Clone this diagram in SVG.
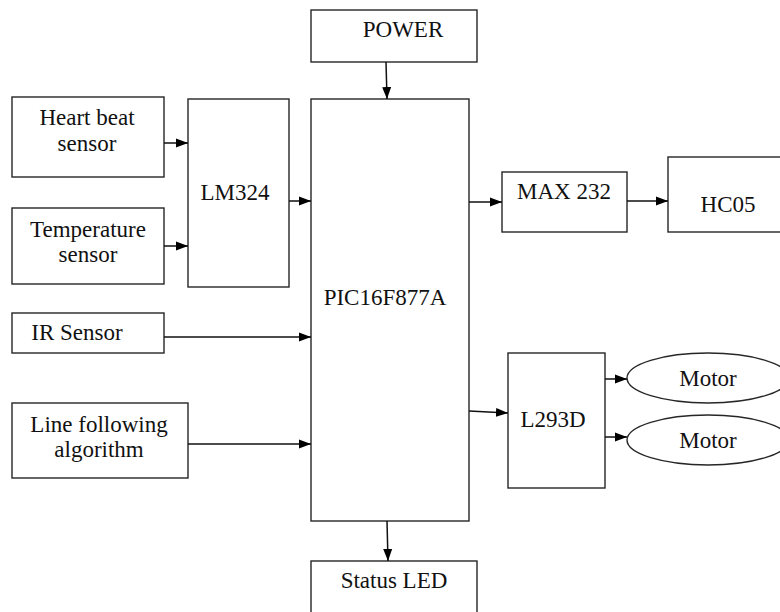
<svg xmlns="http://www.w3.org/2000/svg" width="780" height="612" viewBox="0 0 780 612">
<style>
.b{fill:#fff;stroke:#262626;stroke-width:1.4}
.t{font-family:"Liberation Serif","Times New Roman",serif;font-size:23px;fill:#111;text-anchor:middle}
.c{fill:none;stroke:#111;stroke-width:1.5}
</style>
<defs>
<marker id="a" viewBox="0 0 12 10" refX="12" refY="5" markerWidth="12" markerHeight="10" markerUnits="userSpaceOnUse" orient="auto">
<path d="M0,0.5 L12,5 L0,9.5 z" fill="#000"/>
</marker>
</defs>
<rect width="780" height="612" fill="#fff"/>
<g id="power"><rect class="b" x="311" y="10" width="166" height="52"/><text class="t" x="403" y="37">POWER</text></g>
<g id="heart"><rect class="b" x="12" y="97" width="152" height="80"/><text class="t" x="87" y="125">Heart beat</text><text class="t" x="87" y="151">sensor</text></g>
<g id="temp"><rect class="b" x="12" y="208" width="152" height="76"/><text class="t" x="88" y="237">Temperature</text><text class="t" x="88" y="262">sensor</text></g>
<g id="lm324"><rect class="b" x="188" y="99" width="101" height="188"/><text class="t" x="235" y="200">LM324</text></g>
<g id="pic"><rect class="b" x="311" y="99" width="158" height="422"/><text class="t" x="385" y="305">PIC16F877A</text></g>
<g id="ir"><rect class="b" x="12" y="313" width="152" height="40"/><text class="t" x="77" y="340">IR Sensor</text></g>
<g id="line"><rect class="b" x="12" y="403" width="176" height="75"/><text class="t" x="99" y="432">Line following</text><text class="t" x="99" y="457">algorithm</text></g>
<g id="max232"><rect class="b" x="502" y="172" width="125" height="60"/><text class="t" x="564" y="199">MAX 232</text></g>
<g id="hc05"><rect class="b" x="668" y="157" width="130" height="75"/><text class="t" x="728" y="212">HC05</text></g>
<g id="l293d"><rect class="b" x="508" y="353" width="97" height="135"/><text class="t" x="553" y="427">L293D</text></g>
<g id="motor1"><ellipse class="b" cx="708" cy="378" rx="81" ry="25"/><text class="t" x="708" y="386">Motor</text></g>
<g id="motor2"><ellipse class="b" cx="708" cy="440" rx="81" ry="25"/><text class="t" x="708" y="448">Motor</text></g>
<g id="status"><rect class="b" x="311" y="561" width="166" height="60"/><text class="t" x="394" y="588">Status LED</text></g>
<g id="connectors">
<line class="c" x1="386" y1="62" x2="387" y2="99" marker-end="url(#a)"/>
<line class="c" x1="164" y1="143" x2="188" y2="143" marker-end="url(#a)"/>
<line class="c" x1="164" y1="246" x2="188" y2="246" marker-end="url(#a)"/>
<line class="c" x1="289" y1="201" x2="311" y2="201" marker-end="url(#a)"/>
<line class="c" x1="164" y1="337" x2="311" y2="337" marker-end="url(#a)"/>
<line class="c" x1="188" y1="444" x2="311" y2="444" marker-end="url(#a)"/>
<line class="c" x1="469" y1="202" x2="502" y2="202" marker-end="url(#a)"/>
<line class="c" x1="627" y1="201" x2="668" y2="201" marker-end="url(#a)"/>
<line class="c" x1="469" y1="411" x2="508" y2="413" marker-end="url(#a)"/>
<line class="c" x1="605" y1="379" x2="627" y2="379" marker-end="url(#a)"/>
<line class="c" x1="605" y1="437" x2="627" y2="437" marker-end="url(#a)"/>
<line class="c" x1="387" y1="521" x2="388" y2="561" marker-end="url(#a)"/>
</g>
</svg>
